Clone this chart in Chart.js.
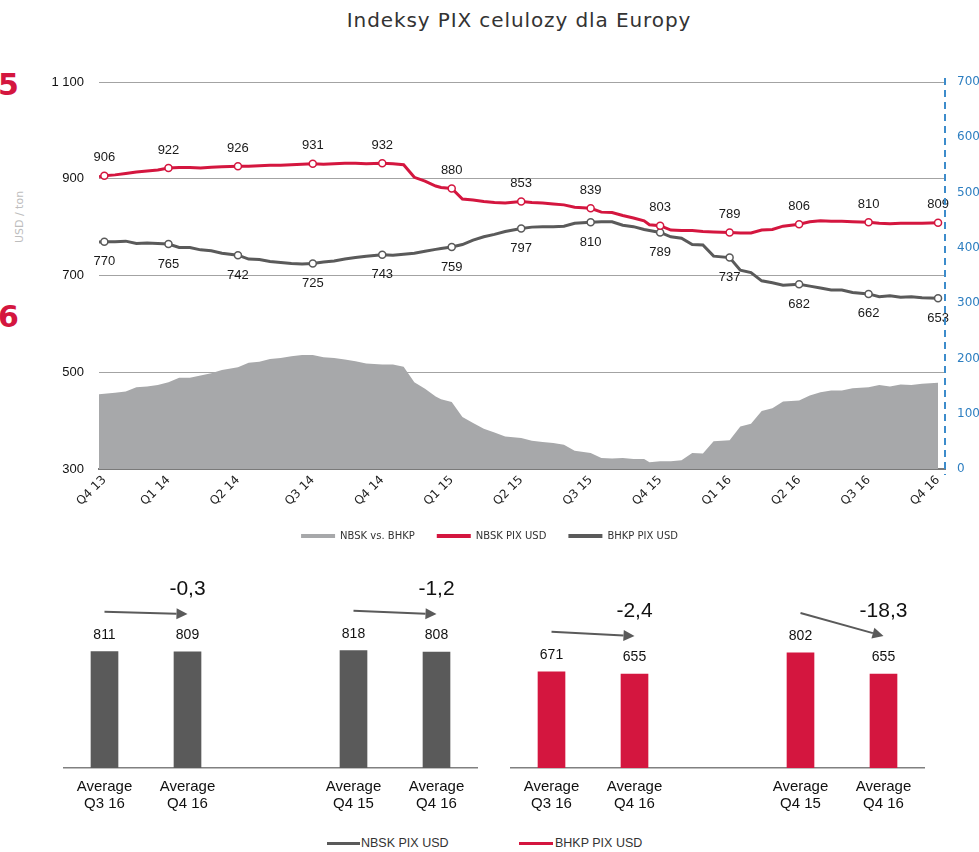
<!DOCTYPE html>
<html>
<head>
<meta charset="utf-8">
<script src="https://cdn.jsdelivr.net/npm/chart.js@4.4.0/dist/chart.umd.min.js"></script>
<style>
  body { margin:0; background:#fff; width:979px; height:852px; position:relative; overflow:hidden; font-family:"Liberation Sans", Arial, sans-serif; }
  .abs { position:absolute; }
  #title { left:219px; width:600px; top:8px; line-height:24px; text-align:center; font-family:"DejaVu Sans"; font-size:20px; letter-spacing:0.9px; color:#333; }
  .bignum { left:-2px; font-family:"DejaVu Sans"; font-weight:bold; font-size:30px; line-height:30px; color:#d4163f; }
  #unit { left:-30px; top:210px; width:100px; height:14px; line-height:14px; text-align:center; font-family:"DejaVu Sans"; font-size:11px; color:#bdbdbd; transform:rotate(-90deg); }
  .sw { height:3px; }
  .lg { font-size:12.5px; color:#333; line-height:14px; }
</style>
</head>
<body>
<div id="title" class="abs">Indeksy PIX celulozy dla Europy</div>
<div class="abs bignum" style="top:70px">5</div>
<div class="abs bignum" style="top:302px">6</div>
<div id="unit" class="abs">USD / ton</div>

<div class="abs" style="left:0; top:0; width:979px; height:551px;"><canvas id="pixChart"></canvas></div>
<div class="abs" style="left:63px; top:560px; width:415px; height:258px;"><canvas id="nbskAvgChart"></canvas></div>
<div class="abs" style="left:510px; top:560px; width:415px; height:258px;"><canvas id="bhkpAvgChart"></canvas></div>

<div class="abs sw" style="left:327px; top:842px; width:33px; background:#5a5a5a;"></div>
<div class="abs lg" style="left:361px; top:836px;">NBSK PIX USD</div>
<div class="abs sw" style="left:519px; top:842px; width:34px; background:#d4163f;"></div>
<div class="abs lg" style="left:555px; top:836px;">BHKP PIX USD</div>

<script>
// tygodnie od poczatku Q4 13
const weeks = [0,1,3,5,7,9,11, 13,15,17,19,21,23, 26,28,30,32,34,36,38, 40,42,44,46,48,50,
  53,55,57,59,61,63,64, 66,68,70,72,74,76, 79,81,83,85,87,89, 92,94,96,98,100,102,103,
  105,107,109,111,113,115, 118,120,122,124,126,128, 131,133,135,137,139,141, 144,146,148,150,152,154, 157];

const nbsk = [904,906,908,911,914,916,918, 922,923,923,922,924,925, 926,926,927,928,928,929,930, 931,930,931,932,932,931,
  932,931,929,903,895,885,882, 880,858,856,853,851,850, 853,851,850,848,846,841, 839,831,830,824,819,813,805,
  803,794,793,793,791,790, 789,788,788,794,795,802, 806,811,813,812,812,811, 810,808,807,808,808,808, 809];

const bhkp = [769,770,770,771,766,767,766, 765,758,758,753,751,746, 742,734,733,729,727,725,724, 725,728,730,734,737,740,
  743,742,744,746,750,754,756, 759,764,773,780,785,791, 797,800,801,801,802,808, 810,811,811,804,801,795,793,
  789,780,777,764,763,740, 737,711,706,689,685,680, 682,678,674,670,670,665, 662,656,658,655,656,654, 653];

// NBSK vs. BHKP (prawa os)
const spread = [135,136,138,140,148,149,152, 157,165,165,169,173,179, 184,192,194,199,201,204,206, 206,202,201,198,195,191,
  189,189,185,157,145,131,126, 121,94,83,73,66,59, 56,51,49,47,44,33, 29,20,19,20,18,18,12,
  14,14,16,29,28,50, 52,77,82,105,110,122, 124,133,139,142,142,146, 148,152,149,153,152,154, 156];

const markerWeeks = [1,13,26,40,53,66,79,92,105,118,131,144,157];
const quarterLabels = ['Q4 13','Q1 14','Q2 14','Q3 14','Q4 14','Q1 15','Q2 15','Q3 15','Q4 15','Q1 16','Q2 16','Q3 16','Q4 16'];

const avgLabels = [['Average','Q3 16'], ['Average','Q4 16'], '', ['Average','Q4 15'], ['Average','Q4 16']];
const nbskAvg = [811, 809, null, 818, 808];
const bhkpAvg = [671, 655, null, 802, 655];
const nbskChange = ['-0,3', '-1,2'];
const bhkpChange = ['-2,4', '-18,3'];
const pairs = [[0, 1], [3, 4]];

const RED = '#d4163f';
const GREY = '#5a5a5a';
const ARIAL = '"Liberation Sans", Arial, sans-serif';
const DEJAVU = '"DejaVu Sans", Verdana, sans-serif';

const toPoints = vals => weeks.map((w, i) => ({ x: w, y: vals[i] }));
const isMarker = i => markerWeeks.includes(weeks[i]);

// etykiety wartosci przy kolkach
const pointLabels = {
  id: 'pointLabels',
  afterDatasetsDraw(chart) {
    const ctx = chart.ctx;
    ctx.save();
    ctx.font = '13px ' + ARIAL;
    ctx.fillStyle = '#1a1a1a';
    ctx.textAlign = 'center';
    ctx.textBaseline = 'middle';
    chart.data.datasets.forEach((ds, i) => {
      if (ds.labelOffset === undefined) return;
      chart.getDatasetMeta(i).data.forEach((pt, j) => {
        if (!isMarker(j)) return;
        ctx.fillText(ds.data[j].y, pt.x, pt.y + ds.labelOffset);
      });
    });
    ctx.restore();
  }
};

// przerywana linia prawej osi
const dashedRightAxis = {
  id: 'dashedRightAxis',
  afterDraw(chart) {
    const s = chart.scales.y2;
    const ctx = chart.ctx;
    ctx.save();
    ctx.strokeStyle = '#3d8ccb';
    ctx.lineWidth = 2;
    ctx.setLineDash([7, 5]);
    ctx.beginPath();
    ctx.moveTo(s.left, chart.chartArea.top - 4);
    ctx.lineTo(s.left, chart.chartArea.bottom + 6);
    ctx.stroke();
    ctx.restore();
  }
};

new Chart(document.getElementById('pixChart'), {
  type: 'line',
  data: {
    datasets: [
      {
        label: 'NBSK vs. BHKP',
        data: toPoints(spread),
        yAxisID: 'y2',
        backgroundColor: '#a7a8aa',
        borderWidth: 0,
        fill: 'origin',
        pointRadius: 0,
        order: 3
      },
      {
        label: 'NBSK PIX USD',
        data: toPoints(nbsk),
        yAxisID: 'y',
        borderColor: RED,
        backgroundColor: RED,
        borderWidth: 3,
        pointRadius: ctx => isMarker(ctx.dataIndex) ? 3.5 : 0,
        pointBackgroundColor: '#fff',
        pointBorderColor: RED,
        pointBorderWidth: 1.5,
        labelOffset: -18,
        order: 1
      },
      {
        label: 'BHKP PIX USD',
        data: toPoints(bhkp),
        yAxisID: 'y',
        borderColor: GREY,
        backgroundColor: GREY,
        borderWidth: 3,
        pointRadius: ctx => isMarker(ctx.dataIndex) ? 3.5 : 0,
        pointBackgroundColor: '#fff',
        pointBorderColor: GREY,
        pointBorderWidth: 1.5,
        labelOffset: 20,
        order: 2
      }
    ]
  },
  options: {
    responsive: true,
    maintainAspectRatio: false,
    animation: false,
    layout: { padding: { top: 82, left: 0, right: 0, bottom: 0 } },
    plugins: {
      tooltip: { enabled: false },
      legend: {
        position: 'bottom',
        labels: {
          font: { family: DEJAVU, size: 10 },
          color: '#333',
          boxWidth: 34,
          boxHeight: 4,
          padding: 22,
          sort: (a, b) => a.datasetIndex - b.datasetIndex,
          generateLabels: chart => Chart.defaults.plugins.legend.labels.generateLabels(chart)
            .map(l => ({ ...l, lineWidth: 0 }))
        }
      }
    },
    scales: {
      x: {
        type: 'linear',
        min: 0,
        max: 158.3,
        afterBuildTicks: s => { s.ticks = markerWeeks.map(v => ({ value: v })); },
        afterFit: s => { s.height = 40; },
        ticks: {
          autoSkip: false,
          minRotation: 45,
          maxRotation: 45,
          padding: 4,
          color: '#222',
          font: { family: DEJAVU, size: 12 },
          callback: (v, i) => quarterLabels[i]
        },
        grid: { display: false, drawTicks: false },
        border: { display: true, color: '#7a7a7a', width: 2 }
      },
      y: {
        position: 'left',
        min: 300,
        max: 1100,
        afterFit: s => { s.width = 99; },
        ticks: {
          stepSize: 200,
          padding: 15,
          color: '#111',
          font: { family: ARIAL, size: 13 },
          callback: v => String(v).replace(/\B(?=(\d{3})+(?!\d))/g, ' ')
        },
        grid: { color: '#a3a3a3', lineWidth: 1, drawTicks: false },
        border: { display: false }
      },
      y2: {
        position: 'right',
        min: 0,
        max: 700,
        afterFit: s => { s.width = 34; },
        ticks: {
          stepSize: 100,
          padding: 12,
          color: '#2e7fc1',
          font: { family: DEJAVU, size: 12 }
        },
        grid: { display: false, drawTicks: false },
        border: { display: false }
      }
    }
  },
  plugins: [pointLabels, dashedRightAxis]
});

function drawArrow(ctx, x1, y1, x2, y2) {
  const ang = Math.atan2(y2 - y1, x2 - x1);
  const head = 11, half = 5.5;
  const bx = x2 - head * Math.cos(ang), by = y2 - head * Math.sin(ang);
  ctx.strokeStyle = GREY;
  ctx.fillStyle = GREY;
  ctx.lineWidth = 2;
  ctx.beginPath();
  ctx.moveTo(x1, y1);
  ctx.lineTo(bx, by);
  ctx.stroke();
  ctx.beginPath();
  ctx.moveTo(x2, y2);
  ctx.lineTo(bx - half * Math.sin(ang), by + half * Math.cos(ang));
  ctx.lineTo(bx + half * Math.sin(ang), by - half * Math.cos(ang));
  ctx.closePath();
  ctx.fill();
}

// wartosci nad slupkami, strzalki i zmiana %
const barNotes = {
  id: 'barNotes',
  afterDatasetsDraw(chart) {
    const ctx = chart.ctx;
    const ds = chart.data.datasets[0];
    const bars = chart.getDatasetMeta(0).data;
    ctx.save();
    ctx.textAlign = 'center';
    ctx.textBaseline = 'middle';
    ctx.font = '14px ' + ARIAL;
    ctx.fillStyle = '#111';
    bars.forEach((b, i) => {
      if (ds.data[i] != null) ctx.fillText(ds.data[i], b.x, b.y - 17);
    });
    pairs.forEach(([a, c], k) => {
      const x1 = bars[a].x, y1 = bars[a].y - 40;
      const x2 = bars[c].x, y2 = bars[c].y - 38;
      drawArrow(ctx, x1, y1, x2, y2);
      ctx.font = '21px ' + ARIAL;
      ctx.fillStyle = '#111';
      ctx.fillText(ds.changes[k], x2, y2 - 25);
    });
    ctx.restore();
  }
};

function avgChart(id, values, color, changes) {
  return new Chart(document.getElementById(id), {
    type: 'bar',
    data: {
      labels: avgLabels,
      datasets: [{ data: values, backgroundColor: color, barThickness: 27, changes: changes }]
    },
    options: {
      responsive: true,
      maintainAspectRatio: false,
      animation: false,
      layout: { padding: 0 },
      plugins: { legend: { display: false }, tooltip: { enabled: false } },
      scales: {
        x: {
          afterFit: s => { s.height = 50; },
          grid: { display: false, drawTicks: false },
          border: { display: true, color: '#808080', width: 1.5 },
          ticks: { padding: 10, color: '#111', font: { family: ARIAL, size: 15, lineHeight: 1.13 } }
        },
        y: { display: false, min: 0, max: 1450 }
      }
    },
    plugins: [barNotes]
  });
}

avgChart('nbskAvgChart', nbskAvg, GREY, nbskChange);
avgChart('bhkpAvgChart', bhkpAvg, RED, bhkpChange);
</script>
</body>
</html>
